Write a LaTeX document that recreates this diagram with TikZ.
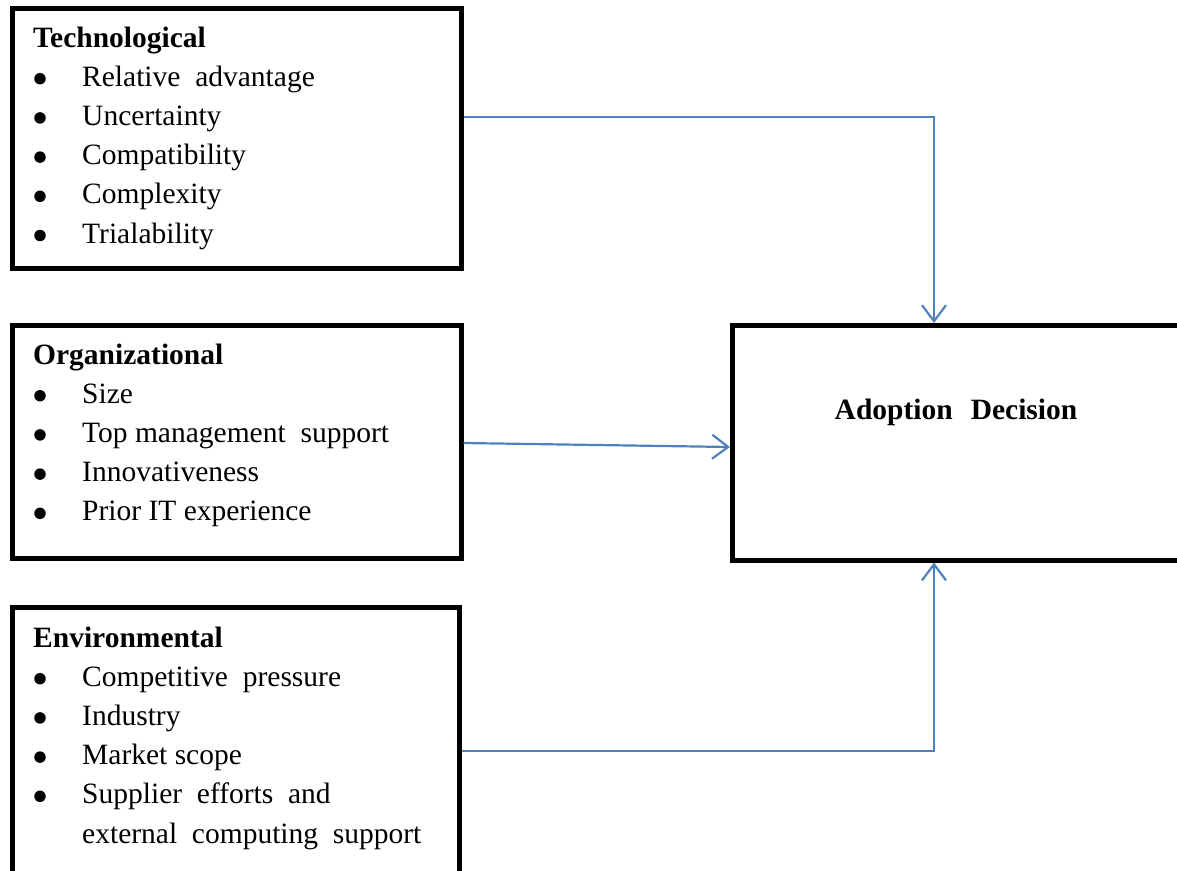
\documentclass[tikz,border=0pt]{standalone}
\usepackage{fontspec}
\setmainfont{Liberation Serif}
\usetikzlibrary{arrows.meta,calc}
\definecolor{linkblue}{RGB}{79,129,189}
\begin{document}
\begin{tikzpicture}[x=1pt,y=-1pt,
  box/.style={draw=black, line width=4.5pt, fill=white, inner sep=0pt, anchor=north west},
  head/.style={anchor=base west, inner sep=0pt, font=\fontsize{29.5}{36}\selectfont\bfseries},
  entry/.style={anchor=base west, inner sep=0pt, font=\fontsize{29.5}{36}\selectfont},
  dot/.style={circle, fill=black, inner sep=0pt, minimum size=11.5pt},
  link/.style={draw=linkblue, line width=2.2pt, -{Straight Barb[length=16pt,width=24pt,line width=2.2pt]}}
]
\useasboundingbox (0,0) rectangle (1177,870);
\clip (0,0) rectangle (1177,870);
\fill[white] (0,0) rectangle (1177,870);

% factor boxes
\node[box, minimum width=449pt, minimum height=260pt] (tech) at (10,6) {};
\node[box, minimum width=449pt, minimum height=233pt] (org) at (10,323) {};
\node[box, minimum width=447pt, minimum height=300pt] (env) at (10,605) {};
\node[box, minimum width=460pt, minimum height=235pt] (adopt) at (730,323) {};

% technological context
\node[head] (th) at (33,47) {Technological};
\foreach \txt [count=\i] in {Relative\ \ advantage, Uncertainty, Compatibility, Complexity, Trialability} {
  \node[dot] (tb\i) at (40,39.5+39.2*\i) {};
  \node[entry] (ti\i) at (82,47+39.2*\i) {\txt};
}

% organizational context
\node[head] (oh) at (33,364) {Organizational};
\foreach \txt [count=\i] in {Size, Top management\ \ support, Innovativeness, Prior IT experience} {
  \node[dot] (ob\i) at (40,356.5+39.2*\i) {};
  \node[entry] (oi\i) at (82,364+39.2*\i) {\txt};
}

% environmental context
\node[head] (eh) at (33,647) {Environmental};
\foreach \txt [count=\i] in {Competitive\ \ pressure, Industry, Market scope, Supplier\ \ efforts\ \ and} {
  \node[dot] (eb\i) at (40,639.5+39.2*\i) {};
  \node[entry] (ei\i) at (82,647+39.2*\i) {\txt};
}
\node[entry] (ei5) at (82,647+39.2*5) {external\ \ computing\ \ support};

% outcome
\node[head, anchor=base] (ad) at (956,419) {Adoption\hspace{18pt}Decision};

% connectors
\coordinate (tk) at (934,117);
\coordinate (ek) at (934,751);
\draw[link] (tech.east |- tk) -- (tk) -- (adopt.north -| tk);
\draw[link] (org.east |- 0,443) -- (adopt.west |- 0,447);
\draw[link] (env.east |- ek) -- (ek) -- (adopt.south -| ek);
\end{tikzpicture}
\end{document}
